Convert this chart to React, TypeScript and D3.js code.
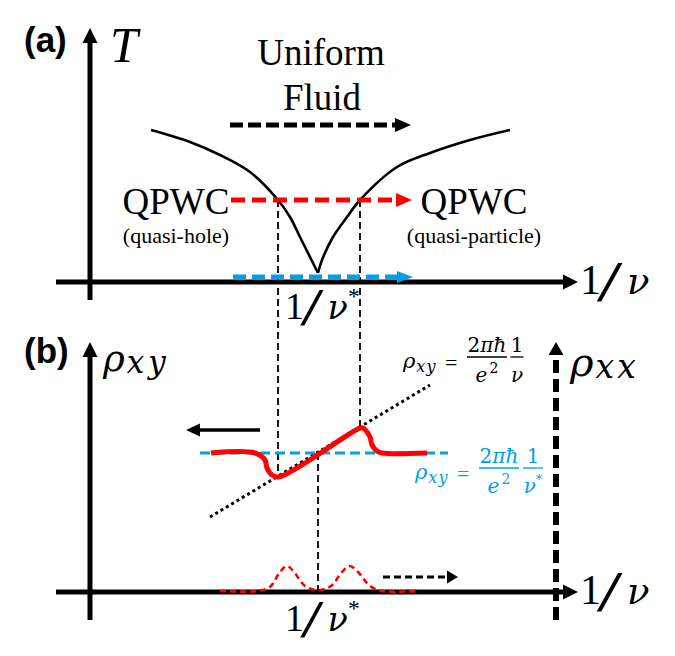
import React from "react";
import * as d3 from "d3";

// ---------------- data (schematic units) ----------------
// x: distance along the 1/ν axis from the origin, y: height above the axis
const boundaryLeftX = [61, 100, 130, 160, 188, 200, 210, 220, 228];
const boundaryLeftT = [152, 140, 127, 110, 82, 65, 45, 25, 9];
const boundaryRightX = [228, 232, 243, 257, 270, 307, 340, 380, 420];
const boundaryRightT = [9, 22, 45, 65, 82, 115, 129, 142, 152];

const nuStar = 228;
const nuLeftCross = 188;
const nuRightCross = 270;

// horizontal sweep arrows in panel (a): fluid, QPWC, ground
const sweepLevels = [157, 82, 5];
const sweepStarts = [140, 141, 143];
const sweepEnds = [321, 322, 323];

// panel (b)
const plateauRho = 139;
const plateauRange = [110, 358];
const classicalX = [120, 340];
const classicalRho = [75, 207];
const rhoXYX = [121, 165, 175, 177, 182, 189, 270, 273, 280, 282, 287, 292, 337];
const rhoXYY = [139, 139, 132, 124, 117, 115, 164, 164, 155, 147, 141, 139, 139];
const rhoXXX = [130, 168, 180, 190, 197, 204, 215, 228, 241, 252, 260, 268, 280, 292, 327];
const rhoXXY = [1, 1, 5, 20, 26, 20, 6, 2, 6, 20, 26, 20, 6, 1, 1];
const leftArrow = [170, 96, 162]; // x from, x to, level
const rightArrow = [293, 368, 15];
const rhoXXAxisX = 466;

// ---------------- styles ----------------
const RED = "#ff0000";
const BLUE = "#00a0e6";
const SERIF = "'Liberation Serif', 'Times New Roman', serif";
const MATH = "'DejaVu Serif', serif";
const SANS = "'Liberation Sans', Arial, sans-serif";

const xS = d3.scaleLinear().domain([0, 488]).range([90, 578]);
const yA = d3.scaleLinear().domain([0, 250]).range([282, 32]);
const yB = d3.scaleLinear().domain([0, 250]).range([592, 342]);

type Pt = [number, number];
const zip = (xs: number[], ys: number[]): Pt[] => xs.map((x, i) => [x, ys[i]]);

function Arrow(props: {
  x1: number; y1: number; x2: number; y2: number; color: string; width: number;
  dash?: string; headLen: number; headHalf: number;
}) {
  const { x1, y1, x2, y2, color, width, dash, headLen, headHalf } = props;
  const dx = x2 - x1, dy = y2 - y1;
  const L = Math.hypot(dx, dy);
  const ux = dx / L, uy = dy / L;
  const bx = x2 - ux * headLen, by = y2 - uy * headLen;
  const pts = [
    [x2, y2],
    [bx - uy * headHalf, by + ux * headHalf],
    [bx + uy * headHalf, by - ux * headHalf],
  ];
  return (
    <g>
      <line x1={x1} y1={y1} x2={bx + ux} y2={by + uy} stroke={color} strokeWidth={width} strokeDasharray={dash} />
      <polygon points={pts.map((p) => p.join(",")).join(" ")} fill={color} />
    </g>
  );
}

function Recip({ x, y, s, star }: { x: number; y: number; s: number; star?: boolean }) {
  return (
    <g fill="#000">
      <text x={x} y={y} fontSize={s} fontFamily={SERIF}>1</text>
      <text transform={`translate(${x + 0.4 * s},${y + 0.17 * s}) scale(1.6,1)`} fontSize={1.38 * s} fontFamily={SERIF}>/</text>
      <text x={x + 1.12 * s} y={y} fontSize={0.88 * s} fontFamily={MATH} fontStyle="italic">ν</text>
      {star && <text x={x + 1.66 * s} y={y - 0.4 * s} fontSize={0.62 * s} fontFamily={SERIF}>*</text>}
    </g>
  );
}

function Formula({ x, bar, color, star }: { x: number; bar: number; color: string; star?: boolean }) {
  const fs = 20;
  const f2 = star ? x + 118 : x + 114;
  const h2 = star ? 10 : 6.5;
  return (
    <g fontFamily={MATH} fill={color}>
      <text x={x} y={bar + 11} fontSize={21} fontStyle="italic">
        ρ<tspan fontSize={16} dy={4} dx={1} letterSpacing={1}>xy</tspan>
      </text>
      <text x={x + 42} y={bar + 13} fontSize={22} fontFamily={SERIF}>=</text>
      <text x={x + 84} y={bar - 5} fontSize={fs} textAnchor="middle">
        2<tspan fontStyle="italic">πħ</tspan>
      </text>
      <line x1={x + 64} x2={x + 104} y1={bar} y2={bar} stroke={color} strokeWidth={1.3} />
      <text x={x + 84} y={bar + 25} fontSize={fs} textAnchor="middle">
        <tspan fontStyle="italic">e</tspan>
        <tspan fontSize={14} dy={-9} dx={2}>2</tspan>
      </text>
      <text x={f2} y={bar - 5} fontSize={fs} textAnchor="middle">1</text>
      <line x1={f2 - h2} x2={f2 + h2} y1={bar} y2={bar} stroke={color} strokeWidth={1.3} />
      <text x={f2} y={bar + 25} fontSize={fs} textAnchor="middle">
        <tspan fontStyle="italic">ν</tspan>
        {star && <tspan fontSize={13} dy={-9}>*</tspan>}
      </text>
    </g>
  );
}

export default function App() {
  const lineA = d3.line<Pt>().x((d) => xS(d[0])).y((d) => yA(d[1])).curve(d3.curveCatmullRom.alpha(0.5));
  const lineB = d3.line<Pt>().x((d) => xS(d[0])).y((d) => yB(d[1])).curve(d3.curveCatmullRom.alpha(0.5));

  const sweepColors = ["#000", RED, BLUE];
  const sweepDash = ["13 5", "14 7", "13 6"];

  return (
    <svg width={675} height={656} viewBox="0 0 675 656"
      style={{ position: "absolute", left: 0, top: 0, background: "#fff" }}>
      <rect width={675} height={656} fill="#fff" />

      {/* ---------- panel (a) ---------- */}
      <text x={24} y={52} fontFamily={SANS} fontWeight="bold" fontSize={35}>(a)</text>
      <text x={110} y={62} fontFamily={SERIF} fontStyle="italic" fontSize={50}>T</text>
      <text x={321} y={65} fontFamily={SERIF} fontSize={37} textAnchor="middle">Uniform</text>
      <text x={322} y={110} fontFamily={SERIF} fontSize={37} textAnchor="middle">Fluid</text>

      <text x={176} y={214} fontFamily={SERIF} fontSize={37} textAnchor="middle">QPWC</text>
      <text x={176} y={243} fontFamily={SERIF} fontSize={22} textAnchor="middle">(quasi-hole)</text>
      <text x={474} y={214} fontFamily={SERIF} fontSize={37} textAnchor="middle">QPWC</text>
      <text x={474} y={243} fontFamily={SERIF} fontSize={22} textAnchor="middle">(quasi-particle)</text>

      {/* guide lines spanning both panels */}
      <line x1={xS(nuLeftCross)} x2={xS(nuLeftCross)} y1={yA(sweepLevels[1])} y2={yB(115)}
        stroke="#000" strokeWidth={1.8} strokeDasharray="7 4" />
      <line x1={xS(nuRightCross)} x2={xS(nuRightCross)} y1={yA(sweepLevels[1])} y2={yB(164)}
        stroke="#000" strokeWidth={1.8} strokeDasharray="7 4" />

      {/* phase boundary */}
      <path d={lineA(zip(boundaryLeftX, boundaryLeftT)) || ""} fill="none" stroke="#000" strokeWidth={2.6} />
      <path d={lineA(zip(boundaryRightX, boundaryRightT)) || ""} fill="none" stroke="#000" strokeWidth={2.6} />

      {/* axes (a) */}
      <Arrow x1={xS(-34)} y1={yA(0)} x2={xS(488)} y2={yA(0)} color="#000" width={5} headLen={15} headHalf={7.5} />
      <Arrow x1={xS(0)} y1={yA(-18)} x2={xS(0)} y2={yA(254)} color="#000" width={5} headLen={15} headHalf={7.5} />

      {sweepLevels.map((lv, i) => (
        <Arrow key={i} x1={xS(sweepStarts[i])} y1={yA(lv)} x2={xS(sweepEnds[i])} y2={yA(lv)}
          color={sweepColors[i]} width={5} dash={sweepDash[i]} headLen={16} headHalf={i === 2 ? 6 : 7} />
      ))}

      <Recip x={580} y={294} s={42} />
      <Recip x={285} y={319} s={38} star />

      {/* ---------- panel (b) ---------- */}
      <text x={24} y={363} fontFamily={SANS} fontWeight="bold" fontSize={35}>(b)</text>
      <text x={103} y={371} fontFamily={MATH} fontStyle="italic" fontSize={37}>
        ρ<tspan fontSize={31} dy={2} dx={2} letterSpacing={4}>xy</tspan>
      </text>
      <text x={570} y={376} fontFamily={MATH} fontStyle="italic" fontSize={40}>
        ρ<tspan fontSize={33} dy={2} dx={2} letterSpacing={3}>xx</tspan>
      </text>

      {/* classical Hall line */}
      <line x1={xS(classicalX[0])} y1={yB(classicalRho[0])} x2={xS(classicalX[1])} y2={yB(classicalRho[1])}
        stroke="#000" strokeWidth={3} strokeDasharray="3 3.2" />
      {/* plateau */}
      <line x1={xS(plateauRange[0])} x2={xS(plateauRange[1])} y1={yB(plateauRho)} y2={yB(plateauRho)}
        stroke={BLUE} strokeWidth={3} strokeDasharray="10 5" />
      {/* center guide */}
      <line x1={xS(nuStar)} x2={xS(nuStar)} y1={yB(plateauRho)} y2={yB(2)}
        stroke="#000" strokeWidth={1.8} strokeDasharray="7 4" />

      {/* rho_xy */}
      <path d={lineB(zip(rhoXYX, rhoXYY)) || ""} fill="none" stroke={RED} strokeWidth={5} strokeLinecap="butt" strokeLinejoin="round" />

      {/* axes (b) */}
      <Arrow x1={xS(-34)} y1={yB(0)} x2={xS(488)} y2={yB(0)} color="#000" width={5} headLen={15} headHalf={7.5} />
      <Arrow x1={xS(0)} y1={yB(-28)} x2={xS(0)} y2={yB(250)} color="#000" width={5} headLen={15} headHalf={7.5} />
      <Arrow x1={xS(rhoXXAxisX)} y1={yB(-28)} x2={xS(rhoXXAxisX)} y2={yB(250)} color="#000" width={6}
        dash="13 6" headLen={13} headHalf={7.5} />

      {/* rho_xx */}
      <path d={lineB(zip(rhoXXX, rhoXXY)) || ""} fill="none" stroke={RED} strokeWidth={2.6} strokeDasharray="6 4" />

      <Arrow x1={xS(leftArrow[0])} y1={yB(leftArrow[2])} x2={xS(leftArrow[1])} y2={yB(leftArrow[2])}
        color="#000" width={3.5} headLen={14} headHalf={6.5} />
      <Arrow x1={xS(rightArrow[0])} y1={yB(rightArrow[2])} x2={xS(rightArrow[1])} y2={yB(rightArrow[2])}
        color="#000" width={3.2} dash="7 4" headLen={11} headHalf={6.5} />

      <Formula x={403} bar={357} color="#000" />
      <Formula x={415} bar={468} color={BLUE} star />

      <Recip x={580} y={604} s={42} />
      <Recip x={285} y={631} s={38} star />
    </svg>
  );
}
